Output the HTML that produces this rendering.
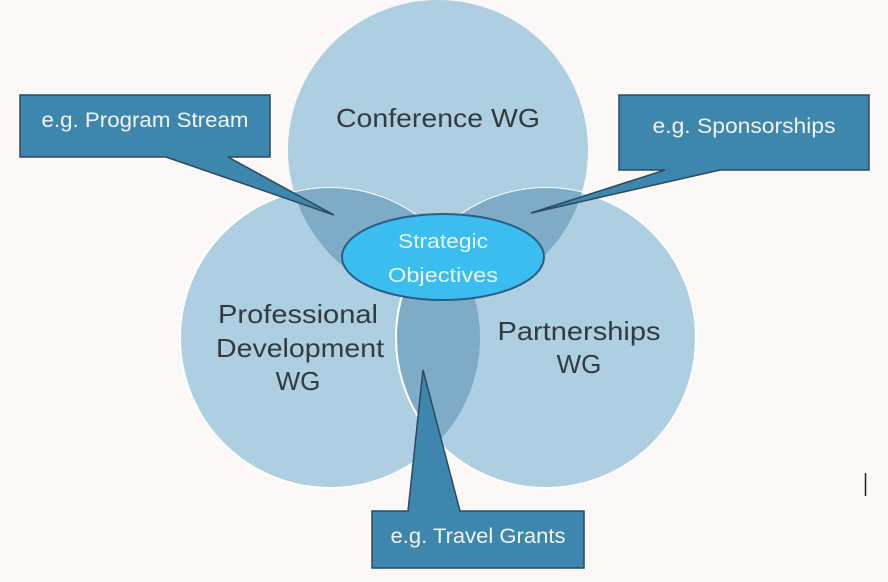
<!DOCTYPE html>
<html><head><meta charset="utf-8"><style>
html,body{margin:0;padding:0;background:#fcf8f8;}
svg{display:block;font-family:"Liberation Sans",sans-serif;}
</style></head><body>
<svg width="888" height="582" viewBox="0 0 888 582" xmlns="http://www.w3.org/2000/svg">
<defs>
<clipPath id="cT"><circle cx="438" cy="150" r="150"/></clipPath>
<clipPath id="cL"><circle cx="330" cy="338" r="150"/></clipPath>
<clipPath id="cR"><circle cx="546" cy="338" r="150"/></clipPath>
</defs>
<rect width="888" height="582" fill="#fcf8f8"/>
<circle cx="438" cy="150" r="150" fill="#aecfe2"/>
<circle cx="330" cy="338" r="150" fill="#aecfe2" stroke="#ffffff" stroke-width="2"/>
<circle cx="546" cy="338" r="150" fill="#aecfe2" stroke="#ffffff" stroke-width="2"/>
<g clip-path="url(#cT)"><circle cx="330" cy="338" r="150" fill="#7eabc6"/><circle cx="546" cy="338" r="150" fill="#7eabc6"/></g>
<g clip-path="url(#cL)"><circle cx="546" cy="338" r="150" fill="#7eabc6" stroke="#fff" stroke-width="2"/></g>
<ellipse cx="443" cy="257" rx="101" ry="43" fill="#3bbdf0" stroke="#2a5f85" stroke-width="2"/>
<text x="443" y="248" font-size="20" fill="#e8f6fc" text-anchor="middle" textLength="90" lengthAdjust="spacingAndGlyphs">Strategic</text>
<text x="443" y="282" font-size="20" fill="#e8f6fc" text-anchor="middle" textLength="110" lengthAdjust="spacingAndGlyphs">Objectives</text>
<g font-size="26" fill="#333a40" text-anchor="middle">
<text x="438" y="127" textLength="204" lengthAdjust="spacingAndGlyphs">Conference WG</text>
<text x="298" y="323" textLength="160" lengthAdjust="spacingAndGlyphs">Professional</text>
<text x="300" y="357" textLength="168" lengthAdjust="spacingAndGlyphs">Development</text>
<text x="298" y="390">WG</text>
<text x="579" y="340" textLength="163" lengthAdjust="spacingAndGlyphs">Partnerships</text>
<text x="579" y="373">WG</text>
</g>
<g fill="#3d86ad" stroke="#2b4a5e" stroke-width="1.5" stroke-linejoin="miter">
<path d="M20,95 H270 V157 H228 L334,215 L166,157 H20 Z"/>
<path d="M619,95 H869 V170 H720 L531,213 L665,170 H619 Z"/>
<path d="M372,511 H408 L423,370 L460,511 H584 V568 H372 Z"/>
</g>
<g font-size="21" fill="#f0f6fa" text-anchor="middle">
<text x="145" y="127" textLength="207" lengthAdjust="spacingAndGlyphs">e.g. Program Stream</text>
<text x="744" y="133" textLength="183" lengthAdjust="spacingAndGlyphs">e.g. Sponsorships</text>
<text x="478" y="543" textLength="175" lengthAdjust="spacingAndGlyphs">e.g. Travel Grants</text>
</g>
<line x1="865.5" y1="473" x2="865.5" y2="496" stroke="#222" stroke-width="1.5"/>
</svg>
</body></html>
